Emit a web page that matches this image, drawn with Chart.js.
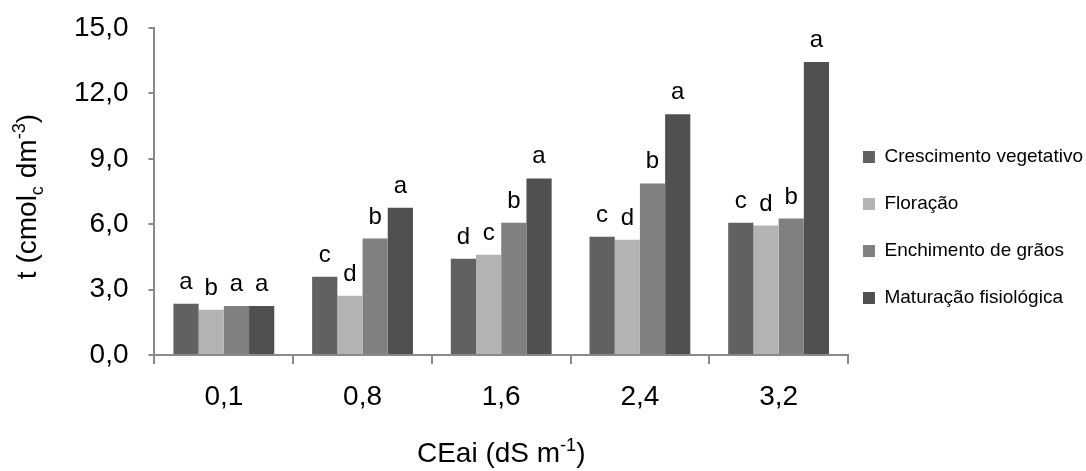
<!DOCTYPE html>
<html>
<head>
<meta charset="utf-8">
<script src="https://cdn.jsdelivr.net/npm/chart.js@4"></script>
<style>
  body { margin: 0; background: #fff; }
  #wrap { width: 1086px; height: 471px; position: relative; }
</style>
</head>
<body>
<div id="wrap"><canvas id="chart"></canvas></div>
<script>
const categories = ["0,1", "0,8", "1,6", "2,4", "3,2"];
const seriesNames = ["Crescimento vegetativo", "Floração", "Enchimento de grãos", "Maturação fisiológica"];
const crescimento = [2.35, 3.59, 4.42, 5.43, 6.07];
const floracao = [2.07, 2.72, 4.60, 5.29, 5.94];
const enchimento = [2.25, 5.34, 6.07, 7.87, 6.26];
const maturacao = [2.25, 6.76, 8.10, 11.04, 13.44];
// letras de significancia por serie
const letrasCresc = ["a", "c", "d", "c", "c"];
const letrasFlor = ["b", "d", "c", "d", "d"];
const letrasEnch = ["a", "b", "b", "b", "b"];
const letrasMat = ["a", "a", "a", "a", "a"];
const yTicks = [0, 3, 6, 9, 12, 15];

const FONT = "'Liberation Sans', Arial, sans-serif";
const axisGray = "#898989";

// draw text with sub/superscript parts, centred on (0,0)
function drawRich(ctx, parts, size) {
  const widths = parts.map(p => {
    ctx.font = (p.s ? size * 0.65 : size) + "px " + FONT;
    return ctx.measureText(p.t).width;
  });
  let x = -widths.reduce((a, b) => a + b, 0) / 2;
  parts.forEach((p, i) => {
    ctx.font = (p.s ? size * 0.65 : size) + "px " + FONT;
    let dy = 0;
    if (p.s === "sub") dy = size * 0.25;
    if (p.s === "sup") dy = -size * 0.38;
    ctx.fillText(p.t, x, dy);
    x += widths[i];
  });
}

const extras = {
  id: "extras",
  afterDatasetsDraw(chart) {
    const ctx = chart.ctx;
    const letters = [letrasCresc, letrasFlor, letrasEnch, letrasMat];
    ctx.save();
    ctx.fillStyle = "#000";
    ctx.font = "24px " + FONT;
    ctx.textAlign = "center";
    ctx.textBaseline = "alphabetic";
    chart.data.datasets.forEach((ds, i) => {
      chart.getDatasetMeta(i).data.forEach((bar, j) => {
        ctx.fillText(letters[i][j], bar.x, bar.y - 15);
      });
    });
    ctx.restore();
  },
  afterDraw(chart) {
    const ctx = chart.ctx;
    const a = chart.chartArea;
    ctx.save();
    ctx.fillStyle = "#000";
    ctx.textBaseline = "alphabetic";
    ctx.textAlign = "left";
    // y title
    ctx.save();
    ctx.translate(36, (a.top + a.bottom) / 2 + 5);
    ctx.rotate(-Math.PI / 2);
    drawRich(ctx, [{t: "t (cmol"}, {t: "c", s: "sub"}, {t: " dm"}, {t: "-3", s: "sup"}, {t: ")"}], 28);
    ctx.restore();
    // x title
    ctx.save();
    ctx.translate((a.left + a.right) / 2, 462);
    drawRich(ctx, [{t: "CEai (dS m"}, {t: "-1", s: "sup"}, {t: ")"}], 28);
    ctx.restore();
    ctx.restore();
  }
};

new Chart(document.getElementById("chart"), {
  type: "bar",
  data: {
    labels: categories,
    datasets: [
      { label: seriesNames[0], data: crescimento, backgroundColor: "#616161" },
      { label: seriesNames[1], data: floracao, backgroundColor: "#b3b3b3" },
      { label: seriesNames[2], data: enchimento, backgroundColor: "#808080" },
      { label: seriesNames[3], data: maturacao, backgroundColor: "#505050" },
    ],
  },
  options: {
    responsive: true,
    maintainAspectRatio: false,
    animation: false,
    datasets: { bar: { categoryPercentage: 0.727, barPercentage: 1.0, borderWidth: 0 } },
    layout: { padding: { left: 54, top: 28, bottom: 31, right: -7 } },
    plugins: {
      legend: {
        position: "right",
        labels: {
          boxWidth: 12,
          boxHeight: 12,
          padding: 15,
          color: "#000",
          font: { family: FONT, size: 19, lineHeight: 32 / 19 },
          // array text so each row takes the font line height (wider spacing)
          generateLabels: (chart) =>
            Chart.defaults.plugins.legend.labels.generateLabels(chart).map(l => ({ ...l, text: [l.text] })),
        },
      },
      tooltip: { enabled: false },
    },
    scales: {
      x: {
        afterFit: (axis) => { axis.height = 85; },
        grid: { offset: true, drawOnChartArea: false, tickLength: 9, color: axisGray, lineWidth: 2 },
        border: { color: axisGray, width: 2 },
        ticks: { color: "#000", padding: 16, font: { family: FONT, size: 28 } },
      },
      y: {
        min: 0,
        max: 15,
        afterBuildTicks: (axis) => { axis.ticks = yTicks.map(v => ({ value: v })); },
        grid: { drawOnChartArea: false, tickLength: 6, color: axisGray, lineWidth: 2 },
        border: { color: axisGray, width: 2 },
        ticks: {
          color: "#000",
          padding: 20,
          // small line height keeps the top label from pushing the plot down
          font: { family: FONT, size: 28, lineHeight: 0.5 },
          callback: (v) => Number(v).toFixed(1).replace(".", ","),
        },
      },
    },
  },
  plugins: [extras],
});
</script>
</body>
</html>
